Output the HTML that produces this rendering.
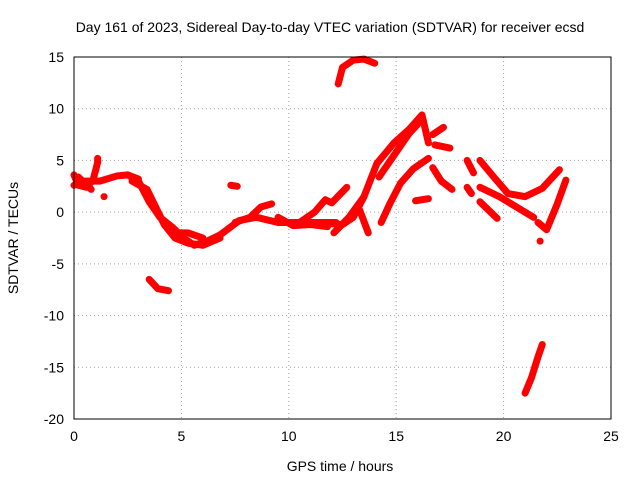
<!DOCTYPE html>
<html><head><meta charset="utf-8"><style>
body{margin:0;background:#fff}
svg text{font-family:"Liberation Sans",sans-serif;font-size:14px;fill:#000}
</style></head><body>
<svg id="chart" width="640" height="480">
<text x="330" y="32" text-anchor="middle">Day 161 of 2023, Sidereal Day-to-day VTEC variation (SDTVAR) for receiver ecsd</text>
<text x="340" y="471" text-anchor="middle">GPS time / hours</text>
<text transform="translate(18,238) rotate(-90)" text-anchor="middle">SDTVAR / TECUs</text>
<g id="grid"></g><g id="ticks"></g><g id="marks"></g>
<rect x="74" y="57" width="537" height="362" fill="none" stroke="#000"/>
</svg>
<script>
const xTicks=[0,5,10,15,20,25];
const yTicks=[15,10,5,0,-5,-10,-15,-20];
const tracks=[
[[0,3.6],[0.2,2.6],[0.6,2.4],[0.9,3.2],[1.1,4.8],[1.1,5.2]],
[[0,2.6],[0.5,3],[1.2,3],[2,3.5],[2.5,3.6],[3,3.2]],
[[0.2,3.4],[0.8,2.2]],
[[2.5,3.6],[3,3],[3.5,1],[4,-0.5],[4.6,-1.5],[5.1,-2.5],[5.6,-3.2],[6.2,-2.8],[6.8,-2.2],[7.7,-0.8],[8.5,-0.5],[9.5,-1],[10.5,-1],[11.5,-1],[12.2,-1]],
[[2.7,3],[3.4,2.2],[3.8,0.5],[4.2,-1.2],[4.7,-2.5],[5.3,-3],[6,-3.2],[6.8,-2.5]],
[[4.6,-2],[5.3,-2],[6,-2.5]],
[[7.5,-1],[8.2,-0.5],[8.7,0.5],[9.2,0.8]],
[[9.5,-0.5],[10.2,-1.3],[11,-1.2],[11.8,-1.4]],
[[3.5,-6.5],[3.9,-7.4],[4.4,-7.6]],
[[7.3,2.6],[7.6,2.5]],
[[12.3,12.4],[12.5,14],[13,14.7],[13.5,14.8],[14,14.4]],
[[10.5,-1],[11.2,0],[11.7,1.2],[12,0.9],[12.7,2.4]],
[[11.2,-1],[12.5,-1.2],[13,-0.5],[13.5,1.5]],
[[12.1,-2],[12.8,-0.5],[13.5,1.5],[14.1,4.7],[14.9,6.7],[15.6,8],[16.2,9.4],[16.5,6.7]],
[[14.2,3.4],[15,5.8],[15.6,7.6],[16,8.5]],
[[13.3,0.2],[13.7,-2]],
[[14.3,-1],[14.7,0.8],[15.2,2.8],[15.8,4.2],[16.5,5.2]],
[[15.9,1.1],[16.5,1.3]],
[[16.7,7.5],[17.2,8.2]],
[[16.8,6.5],[17.5,6.2]],
[[16.7,4.3],[17.1,3],[17.6,2.2]],
[[18.3,5],[18.6,3.8]],
[[18.3,2.4],[18.5,1.8]],
[[18.9,5],[19.5,3.5],[20.2,1.8],[21,1.5],[21.8,2.3],[22.6,4.1]],
[[18.9,2.4],[19.8,1.5],[20.6,0.5],[21.4,-0.5]],
[[18.9,1],[19.7,-0.6]],
[[21,-17.5],[21.3,-16],[21.6,-14],[21.8,-12.8]],
[[21.6,-1],[22,-1.7],[22.5,0.8],[22.9,3.1]],
[[21.7,-2.8],[21.7,-2.8]],
[[1.4,1.5],[1.4,1.5]]
];
const NS='http://www.w3.org/2000/svg';
const X=v=>74+v*(537/25), Y=v=>57+(15-v)*(362/35);
const grid=document.getElementById('grid'),ticks=document.getElementById('ticks'),marks=document.getElementById('marks');
function mk(t,a,p){const e=document.createElementNS(NS,t);for(const k in a)e.setAttribute(k,a[k]);p.appendChild(e);return e;}
xTicks.forEach(v=>{
 if(v>0&&v<25){const g=mk('line',{x1:X(v),x2:X(v),y1:57,y2:419,stroke:'#a0a0a0','stroke-dasharray':'1,3'},grid);
 
 }
 const t=mk('text',{x:X(v),y:441,'text-anchor':'middle'},ticks);t.textContent=v;
 
 
});
yTicks.forEach(v=>{
 if(v<15&&v>-20){const g=mk('line',{x1:74,x2:611,y1:Y(v),y2:Y(v),stroke:'#a0a0a0','stroke-dasharray':'1,3'},grid);
 
 }
 const t=mk('text',{x:64,y:Y(v)+5,'text-anchor':'end'},ticks);t.textContent=v;
 
 
});
tracks.forEach(tr=>{
 const p=mk('polyline',{points:tr.map(q=>X(q[0])+','+Y(q[1])).join(' '),fill:'none',stroke:'#f00','stroke-width':7,'stroke-linecap':'round','stroke-linejoin':'round'},marks);
 
 
});
</script>
</body></html>
